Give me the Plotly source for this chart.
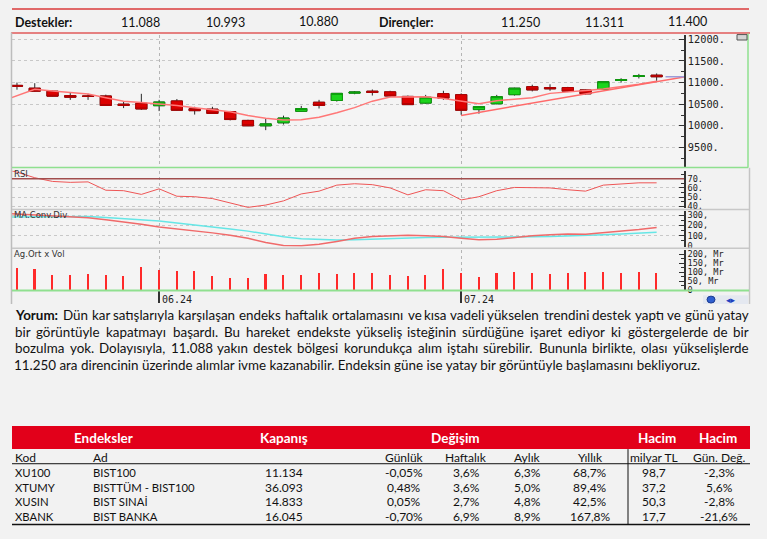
import plotly.graph_objects as go

W, H = 767, 539


def fx(p):
    return p / W


def fy(p):
    return 1 - p / H


# ---------------- data ----------------
dates = [
    "2024-05-22", "2024-05-23", "2024-05-24", "2024-05-27", "2024-05-28", "2024-05-29", "2024-05-30", "2024-05-31",
    "2024-06-03", "2024-06-04", "2024-06-05", "2024-06-06", "2024-06-07", "2024-06-10", "2024-06-11", "2024-06-12",
    "2024-06-13", "2024-06-14", "2024-06-20", "2024-06-21", "2024-06-24", "2024-06-25", "2024-06-26", "2024-06-27",
    "2024-06-28", "2024-07-01", "2024-07-02", "2024-07-03", "2024-07-04", "2024-07-05", "2024-07-08", "2024-07-09",
    "2024-07-10", "2024-07-11", "2024-07-12", "2024-07-16", "2024-07-17",
]
opens = [10935, 10870, 10800, 10700, 10690, 10690, 10500, 10520, 10465, 10575, 10395, 10385, 10330, 10125, 10000,
         10070, 10335, 10545, 10585, 10755, 10800, 10785, 10680, 10525, 10745, 10720, 10375, 10510, 10720, 10905,
         10885, 10885, 10830, 10840, 11050, 11140, 11170]
highs = [11000, 10985, 10810, 10770, 10740, 10720, 10560, 10740, 10600, 10620, 10440, 10440, 10345, 10140, 10165,
         10235, 10460, 10600, 10755, 10800, 10840, 10810, 10700, 10715, 10810, 10750, 10450, 10715, 10880, 10950,
         10960, 10900, 10840, 11025, 11100, 11200, 11210]
lows = [10835, 10790, 10680, 10600, 10600, 10460, 10410, 10370, 10340, 10350, 10260, 10280, 10125, 9995, 9900,
        10030, 10330, 10400, 10560, 10730, 10700, 10665, 10485, 10510, 10600, 10255, 10280, 10500, 10700, 10795,
        10810, 10780, 10720, 10830, 11000, 11095, 11040]
closes = [10915, 10800, 10685, 10660, 10680, 10470, 10470, 10390, 10550, 10360, 10350, 10285, 10145, 10000, 10045,
          10180, 10400, 10470, 10750, 10780, 10770, 10690, 10490, 10660, 10640, 10360, 10445, 10675, 10870, 10830,
          10855, 10800, 10740, 11020, 11065, 11155, 11134]

# indicator series start one session before the first candle
prev_day = "2024-05-21"
ma_line = [10550, 10700, 10845, 10805, 10770, 10735, 10650, 10570, 10540, 10510, 10470, 10420, 10375, 10325, 10240,
           10175, 10135, 10140, 10200, 10300, 10420, 10570, 10665, 10675, 10670, 10630, 10575, 10510, 10580, 10615,
           10650, 10750, 10790, 10815, 10850, 10900, 10960, 11030]
rsi = [82, 77, 71, 67, 66, 66.5, 57.5, 57, 53, 59, 51, 50.5, 48.5, 44, 39, 41.5, 46, 53.5, 56.5, 63, 64.5, 63.5,
       60, 52.5, 58, 57, 47, 50.5, 57, 60.5, 60, 60, 58, 56.5, 63, 64.5, 65.5, 65.5]
macd = [320, 310, 300, 290, 282, 275, 255, 235, 212, 185, 168, 150, 128, 105, 75, 35, 5, 3, 18, 45, 75, 92, 100,
        105, 100, 92, 76, 62, 65, 85, 100, 110, 118, 115, 128, 145, 160, 180]
signal = [280, 282, 285, 288, 290, 288, 278, 268, 255, 243, 225, 207, 188, 165, 145, 115, 90, 70, 62, 60, 62, 68,
          78, 82, 84, 85, 85, 86, 87, 88, 90, 93, 97, 102, 110, 118, 126, 133]
volume = [126, 119, 89, 89, 93, 87, 83, 133, 115, 106, 106, 83, 70, 68, 93, 87, 89, 96, 91, 96, 98, 89, 81, 87,
          120, 98, 74, 96, 102, 98, 93, 100, 102, 102, 100, 102, 98]

trend_start_date = "2024-07-01"
trend_values = [10240, 11130]

supports = ["11.088", "10.993", "10.880"]
resistances = ["11.250", "11.311", "11.400"]

price_ticks = [9500, 10000, 10500, 11000, 11500, 12000]
rsi_ticks = [40, 50, 60, 70]
macd_ticks = [0, 100, 200, 300]
vol_ticks = [0, 50, 100, 150, 200]

paragraph = [
    "Yorum: Dün kar satışlarıyla karşılaşan endeks haftalık ortalamasını ve kısa vadeli yükselen trendini destek yaptı ve günü yatay",
    "bir görüntüyle kapatmayı başardı. Bu hareket endekste yükseliş isteğinin sürdüğüne işaret ediyor ki göstergelerde de bir",
    "bozulma yok. Dolayısıyla, 11.088 yakın destek bölgesi korundukça alım iştahı sürebilir. Bununla birlikte, olası yükselişlerde",
    "11.250 ara direncinin üzerinde alımlar ivme kazanabilir. Endeksin güne ise yatay bir görüntüyle başlamasını bekliyoruz.",
]

tbl_codes = ["XU100", "XTUMY", "XUSIN", "XBANK"]
tbl_names = ["BIST100", "BISTTÜM - BIST100", "BIST SINAİ", "BIST BANKA"]
tbl_close = ["11.134", "36.093", "14.833", "16.045"]
tbl_daily = ["-0,05%", "0,48%", "0,05%", "-0,70%"]
tbl_weekly = ["3,6%", "3,6%", "2,7%", "6,9%"]
tbl_monthly = ["6,3%", "5,0%", "4,8%", "8,9%"]
tbl_yearly = ["68,7%", "89,4%", "42,5%", "167,8%"]
tbl_volume = ["98,7", "37,2", "50,3", "17,7"]
tbl_volchg = ["-2,3%", "5,6%", "-2,8%", "-21,6%"]

# ---------------- derived ----------------
n = len(dates)
xs = list(range(n))
xs_ind = list(range(-1, n))
month_idx = [i for i in range(1, n) if dates[i][5:7] != dates[i - 1][5:7]]
month_lbl = [dates[i][5:7] + "." + dates[i][2:4] for i in month_idx]
x_min, x_max = -0.28, 37.54
body_hi = [max(o, c) for o, c in zip(opens, closes)]
body_lo = [min(o, c) for o, c in zip(opens, closes)]

fig = go.Figure()

# price panel
fig.add_trace(go.Scatter(x=xs_ind, y=ma_line, mode="lines", line=dict(color="#ff7777", width=1.5),
                         xaxis="x", yaxis="y", hoverinfo="skip"))
fig.add_trace(go.Scatter(x=[dates.index(trend_start_date), x_max], y=trend_values, mode="lines",
                         line=dict(color="#ff6a6a", width=1.5), xaxis="x", yaxis="y", hoverinfo="skip"))
fig.add_trace(go.Candlestick(
    x=xs, open=opens, high=highs, low=lows, close=closes, xaxis="x", yaxis="y", whiskerwidth=0,
    increasing=dict(line=dict(color="#2a2a2a", width=1), fillcolor="rgba(0,0,0,0)"),
    decreasing=dict(line=dict(color="#2a2a2a", width=1), fillcolor="rgba(0,0,0,0)"), hoverinfo="skip"))
fig.add_trace(go.Candlestick(
    x=xs, open=opens, high=body_hi, low=body_lo, close=closes, xaxis="x", yaxis="y", whiskerwidth=0,
    increasing=dict(line=dict(color="#0c9c0c", width=1), fillcolor="#1cd41c"),
    decreasing=dict(line=dict(color="#b00000", width=1), fillcolor="#dd0000"), hoverinfo="skip"))

# RSI
fig.add_trace(go.Scatter(x=xs_ind, y=rsi, mode="lines", line=dict(color="#ee5555", width=1),
                         xaxis="x2", yaxis="y2", hoverinfo="skip"))
# MACD
fig.add_trace(go.Scatter(x=xs_ind, y=signal, mode="lines", line=dict(color="#66e6e6", width=1.5),
                         xaxis="x3", yaxis="y3", hoverinfo="skip"))
fig.add_trace(go.Scatter(x=xs_ind, y=macd, mode="lines", line=dict(color="#f06a6a", width=1.5),
                         xaxis="x3", yaxis="y3", hoverinfo="skip"))
# volume
fig.add_trace(go.Bar(x=xs, y=volume, width=0.09, marker=dict(color="#ff2a2a", line=dict(width=0)),
                     xaxis="x4", yaxis="y4", hoverinfo="skip"))


def xax(anchor, **kw):
    d = dict(domain=[fx(12), fx(684)], range=[x_min, x_max], anchor=anchor, showticklabels=False,
             tickvals=month_idx, showgrid=True, gridcolor="#b5b5b5", griddash="dot", gridwidth=1,
             zeroline=False, showline=False, ticks="", fixedrange=True)
    d.update(kw)
    return d


def yax(top, bottom, rng, tickvals, ticktext, grid=True, minor_dtick=None, fsize=9.5):
    d = dict(domain=[fy(bottom), fy(top)], range=rng, side="right", showline=True,
             linecolor="#333", linewidth=1.5, ticks="inside", ticklen=5, tickcolor="#333",
             tickvals=tickvals, ticktext=ticktext,
             tickfont=dict(family="DejaVu Sans Mono", size=fsize, color="#222"),
             showgrid=grid, gridcolor="#c8c8c8",
             griddash="3px,3px", gridwidth=1, zeroline=False, fixedrange=True)
    if minor_dtick:
        d["minor"] = dict(ticks="inside", ticklen=3, tickcolor="#333", dtick=minor_dtick, showgrid=False)
    return d


ya = yax(33, 167, [9052, 12109], price_ticks, [f"{v}." for v in price_ticks], True, 250, 10.3)
ya["anchor"] = "x"
ya2 = yax(171, 209, [38, 78.5], rsi_ticks, [f"{v}." for v in rsi_ticks], True, 5, 8.6)
ya2["anchor"] = "x2"
ya3 = yax(212, 248, [-7, 338], macd_ticks, ["0"] + [f"{v}," for v in macd_ticks[1:]], True, 50, 8.6)
ya3["anchor"] = "x3"
ya4 = yax(251, 292, [0, 226], vol_ticks, ["0"] + [f"{v}, Mr" for v in vol_ticks[1:]], False, 25, 8.6)
ya4["anchor"] = "x4"

shapes = []


def hline(x0, x1, y, color, width=1):
    shapes.append(dict(type="line", xref="paper", yref="paper", x0=fx(x0), x1=fx(x1), y0=fy(y), y1=fy(y),
                       line=dict(color=color, width=width)))


def vline(x, y0, y1, color, width=1):
    shapes.append(dict(type="line", xref="paper", yref="paper", x0=fx(x), x1=fx(x), y0=fy(y0), y1=fy(y1),
                       line=dict(color=color, width=width)))


hline(12, 749, 7, "#e06868", 2)
hline(11, 750, 31.5, "#e05a5a", 1.5)
vline(11.5, 31, 306, "#bdbdbd", 1.5)
vline(748, 32, 168, "#8fe08f", 1.5)
hline(12, 748, 167.8, "#8fe08f", 1.5)
vline(749.5, 168, 306, "#c4c4c4", 1.5)
hline(12, 749, 210.3, "#c8c8c8", 1.5)
hline(12, 749, 249.6, "#c8c8c8", 1.5)
hline(12, 749, 292.2, "#90e090", 2)
# RSI 70 level
shapes.append(dict(type="line", xref="x2 domain", yref="y2", x0=0, x1=1, y0=70, y1=70,
                   line=dict(color="#a24e4e", width=1.5)))
# last price marker
shapes.append(dict(type="line", xref="x", yref="y", x0=n - 0.5, x1=x_max, y0=closes[-1], y1=closes[-1],
                   line=dict(color="#9c9cd8", width=1.5)))
# small icons
shapes.append(dict(type="rect", xref="paper", yref="paper", x0=fx(737), x1=fx(747), y0=fy(38.5), y1=fy(33),
                   fillcolor="#d4d4d4", line=dict(color="#555", width=1)))
shapes.append(dict(type="rect", xref="paper", yref="paper", x0=fx(703), x1=fx(748), y0=fy(306), y1=fy(297),
                   fillcolor="#e4e8f0", line=dict(width=0)))
shapes.append(dict(type="circle", xref="paper", yref="paper", x0=fx(707), x1=fx(715), y0=fy(305), y1=fy(298),
                   fillcolor="#2f5fd0", line=dict(color="#1a3a90", width=1)))
# table
shapes.append(dict(type="rect", xref="paper", yref="paper", x0=fx(12), x1=fx(750), y0=fy(453), y1=fy(429.5),
                   fillcolor="#e2001a", line=dict(width=0)))
hline(12, 750, 467.8, "#111", 1)
hline(12, 750, 529.5, "#111", 1.5)
vline(628, 453, 529.5, "#111", 1)

ann = []
FONT = "Lato"


def txt(x, y, s, size=12.5, color="#111", anchor="left", family=FONT):
    ann.append(dict(x=fx(x), y=fy(y), xref="paper", yref="paper", text=s,
                    showarrow=False, xanchor=anchor, yanchor="middle",
                    font=dict(family=family, size=size, color=color)))


# supports / resistances row
txt(13, 20.5, "<b>Destekler:</b>")
for s, cx in zip(supports, [140, 226, 318]):
    txt(cx, 20.5 if cx != 318 else 19.5, s, anchor="center")
txt(377, 20.5, "<b>Dirençler:</b>")
for s, cx in zip(resistances, [520, 604, 687]):
    txt(cx, 20.5 if cx != 687 else 19.5, s, anchor="center")

# panel labels
lblfont = "DejaVu Sans"
txt(12, 174.5, "RSI", size=8.5, color="#333", family=lblfont)
txt(12, 216, "MA.Conv.Div", size=8.5, color="#333", family=lblfont)
txt(12, 255.5, "Ag.Ort x Vol", size=8.5, color="#333", family=lblfont)

# month labels on the time axis
for i, lab in zip(month_idx, month_lbl):
    ann.append(dict(x=i, y=fy(301.5), xref="x4", yref="paper", text=lab, showarrow=False, xanchor="left",
                    yanchor="middle", xshift=1, font=dict(family="DejaVu Sans Mono", size=10, color="#222")))
txt(731, 301.5, "◂▸", size=9, color="#2040c0", anchor="center", family="DejaVu Sans")

# ---------------- paragraph (justified, word by word) ----------------
PSIZE = 13.4
EM = {
    "a": .51, "b": .57, "c": .47, "d": .57, "e": .53, "f": .33, "g": .51, "h": .57, "i": .24, "j": .24,
    "k": .51, "l": .24, "m": .85, "n": .57, "o": .57, "p": .57, "q": .57, "r": .37, "s": .43, "t": .35,
    "u": .57, "v": .51, "w": .77, "x": .50, "y": .51, "z": .45, "ç": .47, "ğ": .51, "ı": .24, "ö": .57,
    "ş": .43, "ü": .57, "D": .74, "B": .63, "E": .56, "Y": .63, "İ": .27, ".": .2, ",": .2, ":": .22,
}
SPACE_PX = 0.193 * PSIZE
# natural (unjustified) widths of the first three lines in this font, measured from a plain render
NATURAL_PX = [727.0, 695.0, 706.0]


def em_width(word, bold=False):
    w = sum(EM.get(ch, .58) for ch in word)
    return w * (1.04 if bold else 1.0)


TEXT_L, TEXT_R = 14, 750
line_y = [317.5, 334.2, 350.8, 367.4]
for k, (line, yy) in enumerate(zip(paragraph, line_y)):
    if k == len(paragraph) - 1:
        txt(TEXT_L - 2, yy, line, size=PSIZE)
        continue
    words = line.split(" ")
    bolds = [w == "Yorum:" for w in words]
    ems = [em_width(w, b) for w, b in zip(words, bolds)]
    scale = (NATURAL_PX[k] - SPACE_PX * (len(words) - 1)) / sum(ems)
    widths = [e * scale for e in ems]
    gap = (TEXT_R - TEXT_L - sum(widths)) / (len(words) - 1)
    half = len(words) // 2
    xpos = TEXT_L
    for j in range(half):
        s = f"<b>{words[j]}</b>" if bolds[j] else words[j]
        txt(xpos - 1, yy, s, size=PSIZE, anchor="left")
        xpos += widths[j] + gap
    xr = TEXT_R
    for j in range(len(words) - 1, half - 1, -1):
        s = f"<b>{words[j]}</b>" if bolds[j] else words[j]
        txt(xr + 1, yy, s, size=PSIZE, anchor="right")
        xr -= widths[j] + gap

# ---------------- table ----------------
hdr = dict(size=13.5, color="white")
txt(103, 441.5, "<b>Endeksler</b>", anchor="center", **hdr)
txt(284, 441.5, "<b>Kapanış</b>", anchor="center", **hdr)
txt(455, 441.5, "<b>Değişim</b>", anchor="center", **hdr)
txt(657, 441.5, "<b>Hacim</b>", anchor="center", **hdr)
txt(718, 441.5, "<b>Hacim</b>", anchor="center", **hdr)

col_c = [284, 404, 466, 527, 590, 654, 719]
txt(13, 461.5, "Kod", size=12)
txt(91, 461.5, "Ad", size=12)
for s, cx in zip(["Günlük", "Haftalık", "Aylık", "Yıllık", "milyar TL", "Gün. Değ."], col_c[1:]):
    txt(cx, 461.5, s, size=12, anchor="center")

row_y = [476.7, 491.5, 506.3, 521.5]
for r, yy in enumerate(row_y):
    txt(13, yy, tbl_codes[r], size=11.3)
    txt(91, yy, tbl_names[r], size=11.3)
    vals = [tbl_close[r], tbl_daily[r], tbl_weekly[r], tbl_monthly[r], tbl_yearly[r], tbl_volume[r], tbl_volchg[r]]
    for v, cx in zip(vals, col_c):
        txt(cx, yy, v, size=12, anchor="center")

fig.update_layout(
    width=W, height=H, autosize=False, margin=dict(l=0, r=0, t=0, b=0),
    paper_bgcolor="#f2f2f2", plot_bgcolor="#f4f4f4", showlegend=False,
    boxgap=0.1, boxgroupgap=0.3, bargap=0,
    xaxis=xax("y", rangeslider=dict(visible=False)),
    xaxis2=xax("y2", matches="x"),
    xaxis3=xax("y3", matches="x"),
    xaxis4=xax("y4", matches="x", ticks="outside", ticklen=12, tickcolor="#333", tickwidth=1.5),
    yaxis=ya, yaxis2=ya2, yaxis3=ya3, yaxis4=ya4,
    shapes=shapes, annotations=ann,
)

fig.write_html("out.html", config={"displayModeBar": False},
               post_script="document.body.style.margin='0px';document.body.style.background='#f2f2f2';")
